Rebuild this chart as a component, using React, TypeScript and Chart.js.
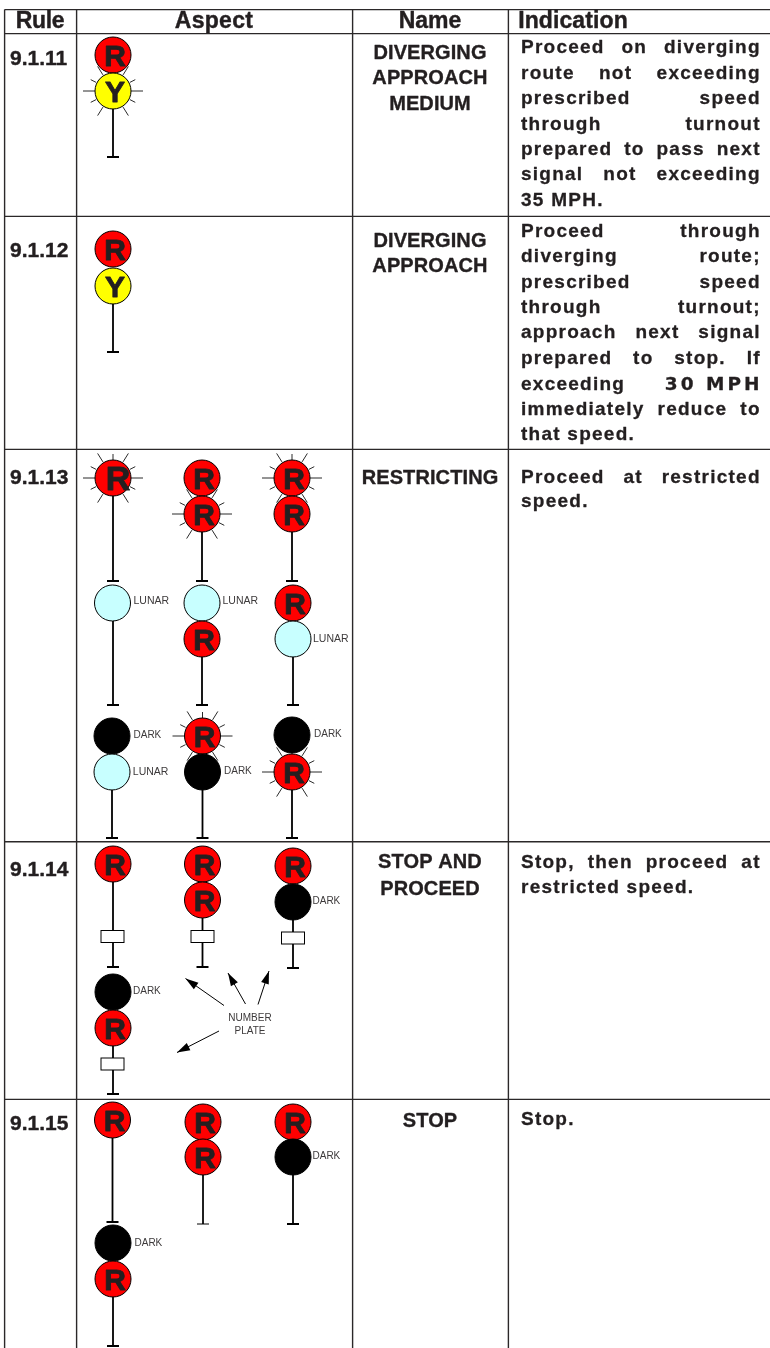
import React, { useEffect, useRef } from "react";
import { Chart, registerables } from "chart.js";

Chart.register(...registerables);

const WIDTH = 770;
const HEIGHT = 1348;
const INK = "#231f20";

// ---- table grid (in page units)
const columnEdges = [4.6, 76.6, 352.6, 508.4];
const rowEdges = [9.6, 33.6, 216.4, 449.4, 841.8, 1099.4];

// ---- header + rule + name text: [text, x, baseline, letterSpacing]
const headerLabels: [string, number, number, number][] = [
  ["Rule", 40, 28, -0.3],
  ["Aspect", 214, 28, 0.3],
  ["Name", 430, 28, 0],
  ["Indication", 573, 28, 0.1],
];
const ruleNumbers: [string, number, number][] = [
  ["9.1.11", 10, 65],
  ["9.1.12", 10, 257],
  ["9.1.13", 10, 484],
  ["9.1.14", 10, 876],
  ["9.1.15", 10, 1130],
];
const aspectNames: [string, number][] = [
  ["DIVERGING", 59],
  ["APPROACH", 84],
  ["MEDIUM", 110],
  ["DIVERGING", 247],
  ["APPROACH", 272],
  ["RESTRICTING", 484],
  ["STOP AND", 868],
  ["PROCEED", 895],
  ["STOP", 1127],
];

// ---- indication text: [line, baseline, justified]
const indicationLines: [string, number, boolean][] = [
  ["Proceed on diverging", 53, true],
  ["route not exceeding", 79, true],
  ["prescribed speed", 104, true],
  ["through turnout", 130, true],
  ["prepared to pass next", 155, true],
  ["signal not exceeding", 180, true],
  ["35 MPH.", 206, false],
  ["Proceed through", 237, true],
  ["diverging route;", 262, true],
  ["prescribed speed", 288, true],
  ["through turnout;", 313, true],
  ["approach next signal", 338, true],
  ["prepared to stop. If", 364, true],
  ["exceeding", 390, false],
  ["immediately reduce to", 415, true],
  ["that speed.", 440, false],
  ["Proceed at restricted", 483, true],
  ["speed.", 507, false],
  ["Stop, then proceed at", 868, true],
  ["restricted speed.", 893, false],
  ["Stop.", 1125, false],
];
const emphasisText = "30 MPH";
const emphasisBaseline = 390;

// ---- lamps, parallel arrays
const lampX = [
  113, 113, 113, 113,
  113, 112.5, 112, 112, 202, 202, 202, 202, 202.5, 202.5, 292, 292, 293, 293, 292, 292,
  113, 202.5, 202.5, 293, 293, 113, 113,
  112.5, 203, 203, 293, 293, 113, 113,
];
const lampY = [
  55, 91, 249, 286,
  478, 603, 736, 772, 478, 514, 603, 639, 736, 772, 478, 514, 603, 639, 735, 772,
  864, 864, 900, 866, 902, 992, 1028,
  1120, 1122, 1157, 1122, 1157, 1243, 1279,
];
const lampKind = [
  "R", "Y", "R", "Y",
  "R", "L", "D", "L", "R", "R", "L", "R", "R", "D", "R", "R", "R", "L", "D", "R",
  "R", "R", "R", "R", "D", "D", "R",
  "R", "R", "R", "R", "D", "D", "R",
];
const flashingLamps = [1, 4, 9, 12, 14, 19];
const largeGlyphLamps = [4];
const lampFill: Record<string, string> = { R: "#ff0000", Y: "#ffff00", L: "#c8ffff", D: "#000000" };

// ---- masts: x, top, foot
const mastX = [113, 113, 113, 113, 112, 202, 202, 202.5, 292, 293, 292, 113, 202.5, 293, 113, 112.5, 293, 113];
const mastTop = [91, 286, 478, 603, 772, 514, 639, 772, 514, 639, 772, 864, 900, 902, 1028, 1120, 1157, 1279];
const mastFoot = [157, 352, 581, 705, 838, 581, 705, 838, 581, 705, 838, 967, 967, 968, 1094, 1222, 1224, 1346];
const thinMastX = [203];
const thinMastTop = [1157];
const thinMastFoot = [1224];

// ---- number plates (centres)
const plateX = [112.5, 202.5, 293, 112.5];
const plateY = [936.5, 936.5, 938, 1064];

// ---- callouts
const lampLabels: [string, number, number][] = [
  ["LUNAR", 133.5, 601.5],
  ["LUNAR", 222.5, 601.5],
  ["LUNAR", 313, 639.5],
  ["DARK", 133.5, 735.5],
  ["LUNAR", 132.8, 772.5],
  ["DARK", 224, 771.5],
  ["DARK", 314, 734.5],
  ["DARK", 312.5, 901.5],
  ["DARK", 133, 991.5],
  ["DARK", 134.5, 1243.5],
  ["DARK", 312.5, 1156.5],
];
const plateCaption: [string, number][] = [
  ["NUMBER", 1018.5],
  ["PLATE", 1031.5],
];
const plateCaptionX = 250;
const arrowFromX = [224, 245.5, 258, 219];
const arrowFromY = [1005.5, 1004, 1004.5, 1031];
const arrowToX = [185.5, 228, 269, 177];
const arrowToY = [978.5, 973, 971, 1052.5];

// ---- flash rays, degrees from +x clockwise, inner and outer reach
const rayAngles = [0, 180, 27, 153, -27, -153, 58, 122, -58, -122, -90];
const rayInner = [18, 18, 19, 19, 19, 19, 19, 19, 19, 19, 18];
const rayOuter = [30, 30, 25, 25, 25, 25, 29, 29, 29, 29, 24];

const FOOT_HALF = 6;

type Pt = { x: number; y: number };
const GAP: Pt = { x: NaN, y: NaN };

function segments(list: [Pt, Pt][]): Pt[] {
  const out: Pt[] = [];
  list.forEach(([a, b]) => out.push(a, b, GAP));
  return out;
}

function mastSegments(xs: number[], tops: number[], feet: number[]): Pt[] {
  const list: [Pt, Pt][] = [];
  xs.forEach((x, i) => {
    list.push([{ x, y: tops[i] }, { x, y: feet[i] }]);
    list.push([{ x: x - FOOT_HALF, y: feet[i] }, { x: x + FOOT_HALF, y: feet[i] }]);
  });
  return segments(list);
}

function gridSegments(): Pt[] {
  const list: [Pt, Pt][] = [];
  columnEdges.forEach((x) => list.push([{ x, y: rowEdges[0] }, { x, y: HEIGHT }]));
  rowEdges.forEach((y) => list.push([{ x: columnEdges[0], y }, { x: WIDTH, y }]));
  return segments(list);
}

function raySegments(): Pt[] {
  const list: [Pt, Pt][] = [];
  flashingLamps.forEach((i) => {
    rayAngles.forEach((deg, k) => {
      const a = (deg * Math.PI) / 180;
      list.push([
        { x: lampX[i] + rayInner[k] * Math.cos(a), y: lampY[i] + rayInner[k] * Math.sin(a) },
        { x: lampX[i] + rayOuter[k] * Math.cos(a), y: lampY[i] + rayOuter[k] * Math.sin(a) },
      ]);
    });
  });
  return segments(list);
}

function arrowSegments(): Pt[] {
  return segments(
    arrowFromX.map((x, i) => [
      { x, y: arrowFromY[i] },
      { x: arrowToX[i], y: arrowToY[i] },
    ])
  );
}

function makePlateStyle(): HTMLCanvasElement {
  const c = document.createElement("canvas");
  c.width = 26;
  c.height = 15;
  const g = c.getContext("2d")!;
  g.fillStyle = "#ffffff";
  g.fillRect(1, 1, 24, 13);
  g.strokeStyle = "#000000";
  g.lineWidth = 1;
  g.strokeRect(1.5, 1.5, 23, 12);
  return c;
}

const textPlugin = {
  id: "tableText",
  afterDatasetsDraw(chart: any) {
    const { ctx, scales } = chart;
    const px = (v: number) => scales.x.getPixelForValue(v);
    const py = (v: number) => scales.y.getPixelForValue(v);
    const put = (
      text: string,
      x: number,
      y: number,
      font: string,
      align: CanvasTextAlign = "left",
      spacing = 0,
      weight = 0,
      base: CanvasTextBaseline = "alphabetic",
      color = INK
    ) => {
      ctx.font = font;
      ctx.textAlign = align;
      ctx.textBaseline = base;
      ctx.fillStyle = color;
      ctx.strokeStyle = color;
      ctx.lineJoin = "round";
      (ctx as any).letterSpacing = `${spacing}px`;
      ctx.fillText(text, px(x), py(y));
      if (weight > 0) {
        ctx.lineWidth = weight;
        ctx.strokeText(text, px(x), py(y));
      }
    };
    ctx.save();

    // arrow heads
    arrowFromX.forEach((fx, i) => {
      const a = Math.atan2(arrowToY[i] - arrowFromY[i], arrowToX[i] - fx);
      const tx = px(arrowToX[i]);
      const ty = py(arrowToY[i]);
      ctx.beginPath();
      ctx.moveTo(tx, ty);
      ctx.lineTo(tx - 13 * Math.cos(a) + 4 * Math.sin(a), ty - 13 * Math.sin(a) - 4 * Math.cos(a));
      ctx.lineTo(tx - 13 * Math.cos(a) - 4 * Math.sin(a), ty - 13 * Math.sin(a) + 4 * Math.cos(a));
      ctx.closePath();
      ctx.fillStyle = "#000000";
      ctx.fill();
    });

    // lamp letters
    lampKind.forEach((k, i) => {
      if (k !== "R" && k !== "Y") return;
      const large = largeGlyphLamps.includes(i);
      const size = large ? 34 : 30;
      const dx = large ? 5 : 2;
      put(k, lampX[i] + dx, lampY[i] + 0.5 + size * 0.345, `bold ${size}px "Liberation Sans"`, "center", 0, 0.9);
    });

    const HEAD = 'bold 23px "Liberation Sans"';
    headerLabels.forEach(([t, x, y, s]) => put(t, x, y, HEAD, "center", s, 0.4));
    ruleNumbers.forEach(([t, x, y]) => put(t, x, y, 'bold 21px "Liberation Sans"', "left", 0, 0.4));
    aspectNames.forEach(([t, y]) => put(t, 430, y, 'bold 20px "Liberation Sans"', "center", 0.1, 0.35));

    // justified indication
    const BODY = 'bold 19px "Liberation Sans"';
    const SP = 1.25;
    const LEFT = 521;
    const RIGHT = 759.5;
    indicationLines.forEach(([line, y, justified]) => {
      if (!justified) {
        put(line, LEFT, y, BODY, "left", SP, 0.3);
        return;
      }
      ctx.font = BODY;
      (ctx as any).letterSpacing = `${SP}px`;
      const words = line.split(" ");
      const widths = words.map((w) => ctx.measureText(w).width);
      const total = widths.reduce((a, b) => a + b, 0);
      const gap = (RIGHT - LEFT - total + SP) / (words.length - 1);
      let x = LEFT;
      words.forEach((w, k) => {
        put(w, x, y, BODY, "left", SP, 0.3);
        x += widths[k] + gap;
      });
    });
    put(emphasisText, RIGHT + 3, emphasisBaseline, 'bold 18.5px "DejaVu Sans"', "right", 3, 0.3);

    lampLabels.forEach(([t, x, y]) => {
      const size = t === "DARK" ? 10 : 10.5;
      put(t, x, y, `${size}px "Liberation Sans"`, "left", 0, 0, "middle", "#3d3a3b");
    });
    plateCaption.forEach(([t, y]) =>
      put(t, plateCaptionX, y, '10px "Liberation Sans"', "center", 0, 0, "middle", "#3d3a3b")
    );
    ctx.restore();
  },
};

export default function App() {
  const ref = useRef<HTMLCanvasElement | null>(null);

  useEffect(() => {
    const line = (data: Pt[], color: string, width: number, order: number) => ({
      data,
      showLine: true,
      spanGaps: false,
      borderColor: color,
      borderWidth: width,
      pointRadius: 0,
      fill: false,
      order,
      clip: false,
    });
    const chart = new Chart(ref.current!, {
      type: "scatter",
      data: {
        datasets: [
          {
            data: lampX.map((x, i) => ({ x, y: lampY[i] })),
            pointRadius: 18,
            pointBackgroundColor: lampKind.map((k) => lampFill[k]),
            pointBorderColor: "#000000",
            pointBorderWidth: 1,
            showLine: false,
            order: 1,
            clip: false,
          },
          {
            data: plateX.map((x, i) => ({ x, y: plateY[i] })),
            pointStyle: makePlateStyle(),
            showLine: false,
            order: 2,
            clip: false,
          },
          line(mastSegments(mastX, mastTop, mastFoot), "#000000", 1.8, 3),
          line(mastSegments(thinMastX, thinMastTop, thinMastFoot), "#000000", 1, 3),
          line(raySegments(), "#2a2a2a", 1, 4),
          line(arrowSegments(), "#000000", 1, 4),
          line(gridSegments(), "#2b2829", 1.4, 5),
        ] as any,
      },
      options: {
        responsive: false,
        animation: false,
        layout: { padding: 0, autoPadding: false },
        events: [],
        plugins: { legend: { display: false }, tooltip: { enabled: false }, title: { display: false } },
        scales: {
          x: { type: "linear", min: 0, max: WIDTH, display: false },
          y: { type: "linear", min: 0, max: HEIGHT, reverse: true, display: false },
        },
      },
      plugins: [textPlugin],
    } as any);
    return () => chart.destroy();
  }, []);

  return (
    <div style={{ position: "absolute", left: 0, top: 0, width: WIDTH, height: HEIGHT, background: "#fff" }}>
      <canvas ref={ref} width={WIDTH} height={HEIGHT} style={{ display: "block" }} />
    </div>
  );
}
